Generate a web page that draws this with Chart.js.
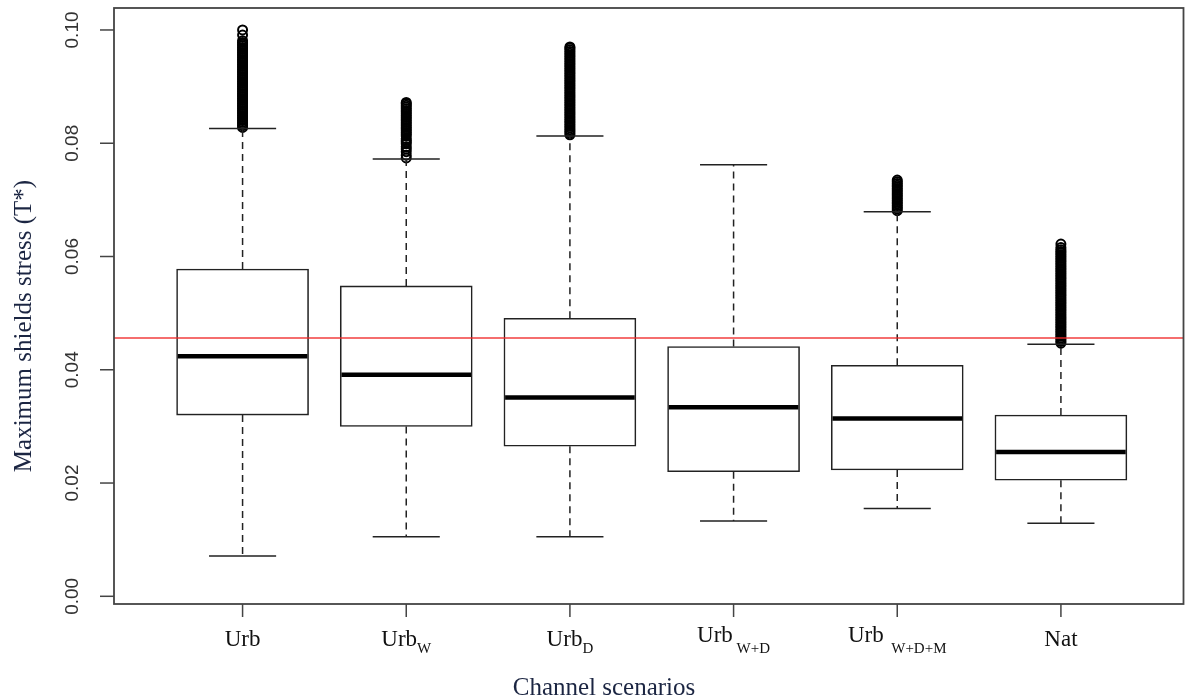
<!DOCTYPE html>
<html>
<head>
<meta charset="utf-8">
<script src="https://cdn.jsdelivr.net/npm/chart.js@4.4.1/dist/chart.umd.min.js"></script>
<style>
  html, body { margin: 0; padding: 0; background: #fff; }
</style>
</head>
<body>
<canvas id="chart" width="1190" height="700"></canvas>
<script>
// scenario names (main text + subscript)
const categories = ['Urb', 'Urb', 'Urb', 'Urb', 'Urb', 'Nat'];
const subscripts = ['', 'W', 'D', ' W+D', '  W+D+M', ''];

// box statistics
const lowWhisker  = [0.0071, 0.0105, 0.0105, 0.0133, 0.0155, 0.0129];
const q1          = [0.0320, 0.0300, 0.0265, 0.0220, 0.0223, 0.0205];
const medians     = [0.0424, 0.0391, 0.0351, 0.0334, 0.0314, 0.0255];
const q3          = [0.0578, 0.0548, 0.0491, 0.0441, 0.0408, 0.0320];
const highWhisker = [0.0826, 0.0772, 0.0813, 0.0762, 0.0679, 0.0445];

// outliers (dense columns above the upper whisker)
const outUrb = [0.0828,0.0831,0.0834,0.0837,0.0840,0.0843,0.0846,0.0849,0.0852,0.0855,0.0858,0.0861,0.0864,0.0867,0.0870,0.0873,0.0876,0.0879,0.0882,0.0885,0.0888,0.0891,0.0894,0.0897,0.0900,0.0903,0.0906,0.0909,0.0912,0.0915,0.0918,0.0921,0.0924,0.0927,0.0930,0.0933,0.0936,0.0939,0.0942,0.0945,0.0948,0.0951,0.0954,0.0957,0.0960,0.0963,0.0966,0.0969,0.0972,0.0975,0.0978,0.0981,0.0991,0.1000];
const outUrbW = [0.0774,0.0779,0.0785,0.0790,0.0794,0.0799,0.0802,0.0805,0.0808,0.0813,0.0816,0.0819,0.0822,0.0825,0.0828,0.0831,0.0834,0.0837,0.0840,0.0843,0.0846,0.0849,0.0852,0.0855,0.0858,0.0861,0.0864,0.0867,0.0870,0.0872];
const outUrbD = [0.0815,0.0818,0.0821,0.0824,0.0827,0.0830,0.0833,0.0836,0.0839,0.0842,0.0845,0.0848,0.0851,0.0854,0.0857,0.0860,0.0863,0.0866,0.0869,0.0872,0.0875,0.0878,0.0881,0.0884,0.0887,0.0890,0.0893,0.0896,0.0899,0.0902,0.0905,0.0908,0.0911,0.0914,0.0917,0.0920,0.0923,0.0926,0.0929,0.0932,0.0935,0.0938,0.0941,0.0944,0.0947,0.0950,0.0953,0.0956,0.0959,0.0962,0.0965,0.0968,0.0970];
const outUrbWD = [];
const outUrbWDM = [0.0681,0.0684,0.0687,0.0690,0.0693,0.0696,0.0699,0.0702,0.0705,0.0708,0.0711,0.0714,0.0717,0.0720,0.0723,0.0726,0.0729,0.0732,0.0735];
const outNat = [0.0447,0.0450,0.0453,0.0456,0.0459,0.0462,0.0465,0.0468,0.0471,0.0474,0.0477,0.0480,0.0483,0.0486,0.0489,0.0492,0.0495,0.0498,0.0501,0.0504,0.0507,0.0510,0.0513,0.0516,0.0519,0.0522,0.0525,0.0528,0.0531,0.0534,0.0537,0.0540,0.0543,0.0546,0.0549,0.0552,0.0555,0.0558,0.0561,0.0564,0.0567,0.0570,0.0573,0.0576,0.0579,0.0582,0.0585,0.0588,0.0591,0.0594,0.0597,0.0600,0.0603,0.0606,0.0609,0.0612,0.0616,0.0622];
const outliers = [outUrb, outUrbW, outUrbD, outUrbWD, outUrbWDM, outNat];

// red reference line
const threshold = 0.0456;

const yTicks = [0, 0.02, 0.04, 0.06, 0.08, 0.10];
const yTickLabels = ['0.00', '0.02', '0.04', '0.06', '0.08', '0.10'];

const yTitle = 'Maximum shields stress (T*)';
const xTitle = 'Channel scenarios';

const boxHalf = 0.402;
const capHalf = 0.205;
const serif = '"Liberation Serif", "Times New Roman", serif';
const sans = '"Liberation Sans", Arial, sans-serif';

const boxData = categories.map((c, i) => ({ x: i + 1, y: [q1[i], q3[i]] }));
const outData = [];
outliers.forEach((list, i) => list.forEach(v => outData.push({ x: i + 1, y: v })));

const boxExtras = {
  id: 'boxExtras',
  afterDatasetsDraw(chart) {
    const { ctx, chartArea: a, scales: { x, y } } = chart;
    ctx.save();

    // whiskers, caps, medians
    categories.forEach((c, i) => {
      const cx = x.getPixelForValue(i + 1);
      const cl = x.getPixelForValue(i + 1 - capHalf);
      const cr = x.getPixelForValue(i + 1 + capHalf);
      const bl = x.getPixelForValue(i + 1 - boxHalf);
      const br = x.getPixelForValue(i + 1 + boxHalf);

      ctx.strokeStyle = '#222';
      ctx.lineWidth = 1.5;
      ctx.setLineDash([7, 5]);
      ctx.beginPath();
      ctx.moveTo(cx, y.getPixelForValue(q3[i]));
      ctx.lineTo(cx, y.getPixelForValue(highWhisker[i]));
      ctx.moveTo(cx, y.getPixelForValue(q1[i]));
      ctx.lineTo(cx, y.getPixelForValue(lowWhisker[i]));
      ctx.stroke();
      ctx.setLineDash([]);

      ctx.strokeStyle = '#222';
      ctx.beginPath();
      ctx.moveTo(cl, y.getPixelForValue(highWhisker[i]));
      ctx.lineTo(cr, y.getPixelForValue(highWhisker[i]));
      ctx.moveTo(cl, y.getPixelForValue(lowWhisker[i]));
      ctx.lineTo(cr, y.getPixelForValue(lowWhisker[i]));
      ctx.stroke();

      ctx.strokeStyle = '#000';
      ctx.lineWidth = 4.5;
      ctx.beginPath();
      ctx.moveTo(bl + 1, y.getPixelForValue(medians[i]));
      ctx.lineTo(br - 1, y.getPixelForValue(medians[i]));
      ctx.stroke();
    });

    // threshold line
    const ty = y.getPixelForValue(threshold);
    ctx.strokeStyle = 'rgba(240, 40, 40, 0.9)';
    ctx.lineWidth = 1.5;
    ctx.beginPath();
    ctx.moveTo(a.left, ty);
    ctx.lineTo(a.right, ty);
    ctx.stroke();

    // frame
    ctx.strokeStyle = '#444';
    ctx.lineWidth = 1.8;
    ctx.strokeRect(a.left, a.top, a.right - a.left, a.bottom - a.top);

    // y axis ticks and labels
    ctx.lineWidth = 1.5;
    ctx.fillStyle = '#333';
    ctx.font = '19px ' + sans;
    ctx.textAlign = 'center';
    ctx.textBaseline = 'middle';
    yTicks.forEach((v, i) => {
      const py = y.getPixelForValue(v);
      ctx.beginPath();
      ctx.moveTo(a.left - 14, py);
      ctx.lineTo(a.left, py);
      ctx.stroke();
      ctx.save();
      ctx.translate(73, py);
      ctx.rotate(-Math.PI / 2);
      ctx.fillText(yTickLabels[i], 0, 0);
      ctx.restore();
    });

    // x axis ticks and labels
    ctx.textBaseline = 'alphabetic';
    ctx.textAlign = 'left';
    ctx.fillStyle = '#111';
    categories.forEach((c, i) => {
      const cx = x.getPixelForValue(i + 1);
      ctx.beginPath();
      ctx.moveTo(cx, a.bottom);
      ctx.lineTo(cx, a.bottom + 13);
      ctx.stroke();
      ctx.font = '23px ' + serif;
      const wMain = ctx.measureText(c).width;
      ctx.font = '15px ' + serif;
      const wSub = ctx.measureText(subscripts[i]).width;
      const x0 = cx - (wMain + wSub) / 2;
      const raised = subscripts[i].includes('+') ? 4 : 0;
      ctx.font = '23px ' + serif;
      ctx.fillText(c, x0, 646 - raised);
      ctx.font = '15px ' + serif;
      ctx.fillText(subscripts[i], x0 + wMain, 653);
    });

    // titles
    ctx.fillStyle = '#1b2542';
    ctx.font = '25px ' + serif;
    ctx.textAlign = 'center';
    ctx.fillText(xTitle, 604, 695);
    ctx.save();
    ctx.translate(24, 326);
    ctx.rotate(-Math.PI / 2);
    ctx.textBaseline = 'middle';
    ctx.fillText(yTitle, 0, 0);
    ctx.restore();

    ctx.restore();
  }
};

new Chart(document.getElementById('chart'), {
  type: 'bar',
  data: {
    datasets: [
      {
        type: 'bar',
        data: boxData,
        backgroundColor: '#fff',
        borderColor: '#222',
        borderWidth: 1.6,
        borderSkipped: false,
        barThickness: 132,
        order: 2
      },
      {
        type: 'scatter',
        data: outData,
        pointStyle: 'circle',
        pointRadius: 4.5,
        pointBackgroundColor: 'rgba(0,0,0,0)',
        pointBorderColor: '#000',
        pointBorderWidth: 2,
        order: 1
      }
    ]
  },
  options: {
    responsive: false,
    animation: false,
    layout: { padding: { left: 114, right: 3, top: 8, bottom: 96 } },
    plugins: { legend: { display: false }, tooltip: { enabled: false } },
    scales: {
      x: { type: 'linear', min: 0.2144, max: 6.749, offset: false, display: false },
      y: { min: -0.00136, max: 0.10388, display: false }
    }
  },
  plugins: [boxExtras]
});
</script>
</body>
</html>
